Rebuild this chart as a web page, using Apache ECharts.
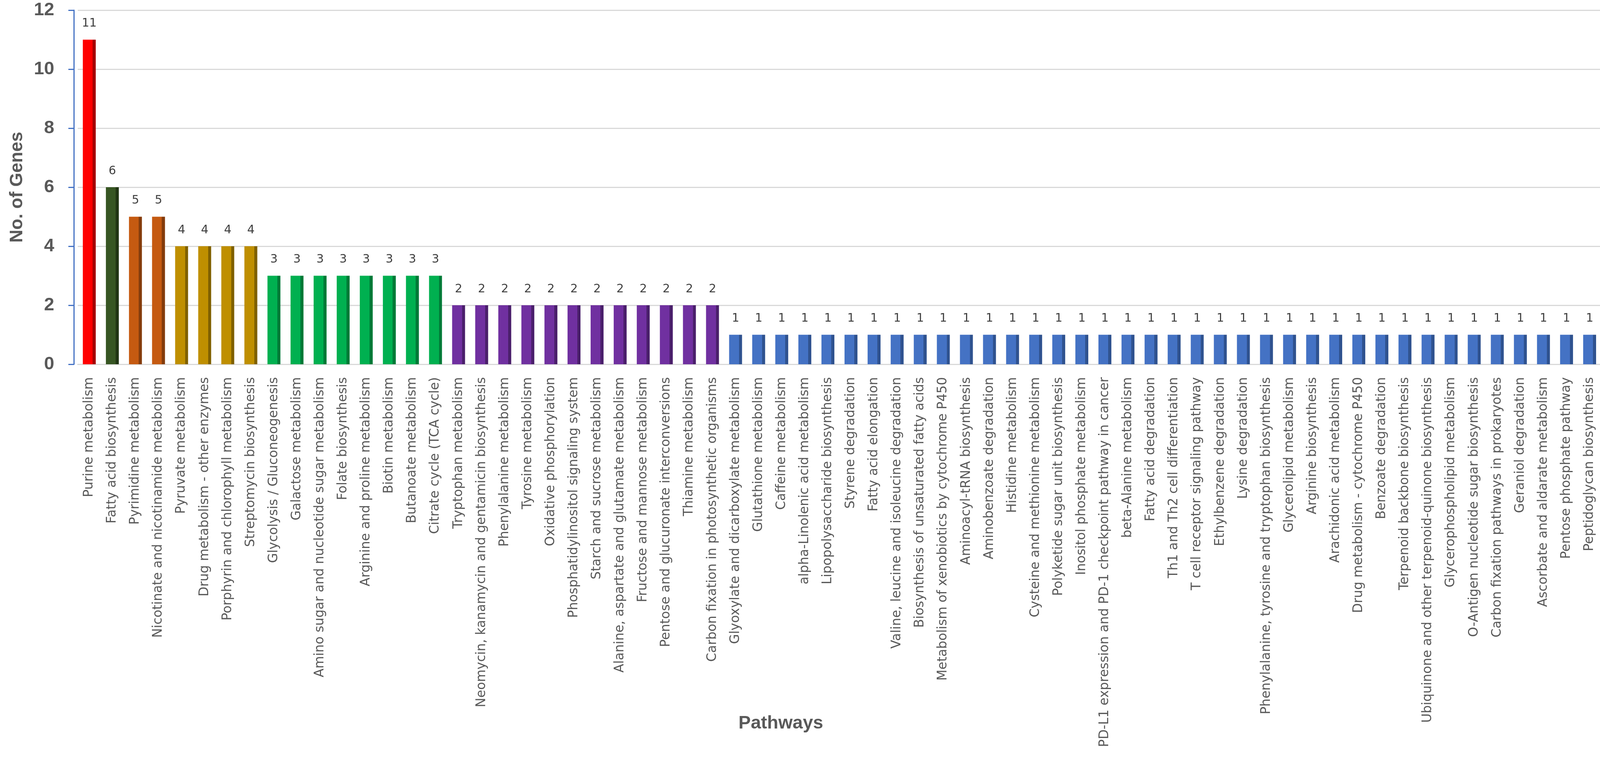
<!DOCTYPE html>
<html>
<head>
<meta charset="utf-8">
<script src="https://cdn.jsdelivr.net/npm/echarts@6/dist/echarts.min.js"></script>
<style>
html,body{margin:0;padding:0;background:#fff;overflow:hidden;}
#chart{width:4133px;height:1942px;}
</style>
</head>
<body>
<div id="chart"></div>
<script>
const categories = [
  "Purine metabolism","Fatty acid biosynthesis","Pyrimidine metabolism","Nicotinate and nicotinamide metabolism",
  "Pyruvate metabolism","Drug metabolism - other enzymes","Porphyrin and chlorophyll metabolism","Streptomycin biosynthesis",
  "Glycolysis / Gluconeogenesis","Galactose metabolism","Amino sugar and nucleotide sugar metabolism","Folate biosynthesis",
  "Arginine and proline metabolism","Biotin metabolism","Butanoate metabolism","Citrate cycle (TCA cycle)",
  "Tryptophan metabolism","Neomycin, kanamycin and gentamicin biosynthesis","Phenylalanine metabolism","Tyrosine metabolism",
  "Oxidative phosphorylation","Phosphatidylinositol signaling system","Starch and sucrose metabolism",
  "Alanine, aspartate and glutamate metabolism","Fructose and mannose metabolism","Pentose and glucuronate interconversions",
  "Thiamine metabolism","Carbon fixation in photosynthetic organisms","Glyoxylate and dicarboxylate metabolism",
  "Glutathione metabolism","Caffeine metabolism","alpha-Linolenic acid metabolism","Lipopolysaccharide biosynthesis",
  "Styrene degradation","Fatty acid elongation","Valine, leucine and isoleucine degradation",
  "Biosynthesis of unsaturated fatty acids","Metabolism of xenobiotics by cytochrome P450","Aminoacyl-tRNA biosynthesis",
  "Aminobenzoate degradation","Histidine metabolism","Cysteine and methionine metabolism","Polyketide sugar unit biosynthesis",
  "Inositol phosphate metabolism","PD-L1 expression and PD-1 checkpoint pathway in cancer","beta-Alanine metabolism",
  "Fatty acid degradation","Th1 and Th2 cell differentiation","T cell receptor signaling pathway","Ethylbenzene degradation",
  "Lysine degradation","Phenylalanine, tyrosine and tryptophan biosynthesis","Glycerolipid metabolism","Arginine biosynthesis",
  "Arachidonic acid metabolism","Drug metabolism - cytochrome P450","Benzoate degradation","Terpenoid backbone biosynthesis",
  "Ubiquinone and other terpenoid-quinone biosynthesis","Glycerophospholipid metabolism","O-Antigen nucleotide sugar biosynthesis",
  "Carbon fixation pathways in prokaryotes","Geraniol degradation","Ascorbate and aldarate metabolism",
  "Pentose phosphate pathway","Peptidoglycan biosynthesis"
];
const geneCounts = [
  11,6,5,5,4,4,4,4,
  3,3,3,3,3,3,3,3,
  2,2,2,2,2,2,2,2,2,2,2,2,
  1,1,1,1,1,1,1,1,1,1,1,1,1,1,1,1,1,1,1,1,1,1,1,1,1,1,1,1,1,1,1,1,1,1,1,1,1,1
];
const yTicks = [0,2,4,6,8,10,12];

// colour by gene count: [front, side]
const colorByCount = {
  11: ["#FF0000", "#A50000"],
  6:  ["#375623", "#213514"],
  5:  ["#C55A11", "#843C0C"],
  4:  ["#BF8F00", "#7F6000"],
  3:  ["#00B050", "#007A37"],
  2:  ["#7030A0", "#4A1F6B"],
  1:  ["#4472C4", "#2F528F"]
};

function barColor(v) {
  const c = colorByCount[v] || colorByCount[1];
  return new echarts.graphic.LinearGradient(0, 0, 1, 0, [
    {offset: 0, color: c[0]},
    {offset: 0.76, color: c[0]},
    {offset: 0.76, color: c[1]},
    {offset: 1, color: c[1]}
  ]);
}

const chart = echarts.init(document.getElementById('chart'), null, {renderer: 'canvas'});
const option = {
  backgroundColor: '#ffffff',
  animation: false,
  grid: {left: 199, right: 34, top: 26, bottom: 1010, containLabel: false, outerBoundsMode: 'none'},
  xAxis: {
    type: 'category',
    data: categories,
    name: 'Pathways',
    nameLocation: 'middle',
    nameGap: 896,
    nameMoveOverlap: false,
    nameTextStyle: {
      fontFamily: 'Liberation Sans', fontWeight: 'bold', fontSize: 47, color: '#595959',
      padding: [0, 300, 0, 0]
    },
    axisLine: {show: true, lineStyle: {color: '#D9D9D9', width: 3}},
    axisTick: {show: false},
    axisLabel: {
      interval: 0, rotate: 90, margin: 33,
      fontFamily: 'DejaVu Sans', fontSize: 32.8, color: '#595959'
    },
    splitLine: {show: false}
  },
  yAxis: {
    type: 'value',
    min: 0, max: 12, interval: 2,
    offset: 10,
    name: 'No. of Genes',
    nameLocation: 'middle',
    nameGap: 122,
    nameRotate: 90,
    nameMoveOverlap: false,
    nameTextStyle: {fontFamily: 'Liberation Sans', fontWeight: 'bold', fontSize: 46, color: '#595959'},
    axisLine: {show: true, lineStyle: {color: '#4472C4', width: 3}},
    axisTick: {show: true, inside: false, length: 14, lineStyle: {color: '#4472C4', width: 3}},
    axisLabel: {
      margin: 50, fontFamily: 'Liberation Sans', fontWeight: 'bold', fontSize: 47, color: '#595959',
      formatter: function (v) { return yTicks.indexOf(v) >= 0 ? String(v) : ''; }
    },
    splitLine: {show: true, lineStyle: {color: '#D9D9D9', width: 3}}
  },
  series: [{
    type: 'bar',
    data: geneCounts.map(v => ({value: v, itemStyle: {color: barColor(v)}})),
    barWidth: '56%',
    label: {
      show: true, position: 'top', distance: 26,
      fontFamily: 'DejaVu Sans', fontSize: 30, color: '#404040'
    }
  }]
};
chart.setOption(option);
</script>
</body>
</html>
